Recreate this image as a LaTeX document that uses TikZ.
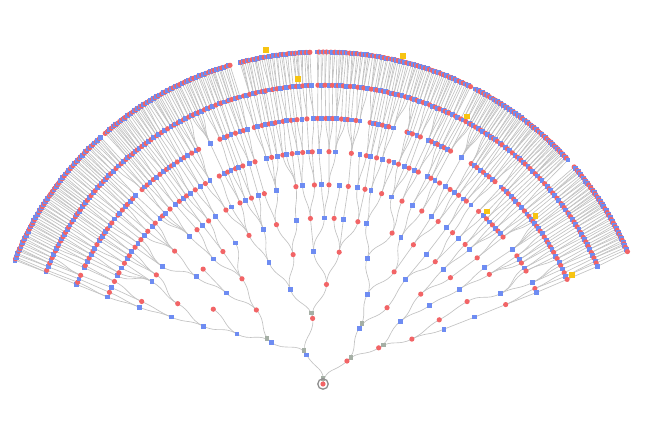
\documentclass[tikz,border=0pt]{standalone}
\pgfdeclarelayer{bg}
\pgfsetlayers{bg,main}
\definecolor{nred}{HTML}{F26466}
\definecolor{nblue}{HTML}{6E8CF2}
\definecolor{ngray}{HTML}{A5AFA5}
\definecolor{nyellow}{HTML}{F7C412}
\definecolor{ecol}{HTML}{C2C2C2}
\definecolor{ringc}{HTML}{8E8E8E}
\tikzset{
  rnode/.style={circle,fill=nred,inner sep=0pt,minimum size=5.2pt},
  bnode/.style={rectangle,fill=nblue,inner sep=0pt,minimum size=4.8pt},
  gmark/.style={rectangle,fill=ngray,inner sep=0pt,minimum size=4.6pt},
  ymark/.style={rectangle,fill=nyellow,inner sep=0pt,minimum size=5.6pt},
  rootring/.style={circle,draw=ringc,line width=1.3pt,inner sep=0pt,minimum size=10.5pt},
  link/.style={draw=ecol,line width=0.65pt},
}
\newcommand\SetA[3]{\expandafter\xdef\csname tA-#1-#2\endcsname{#3}}
\newcommand\GetA[2]{\csname tA-#1-#2\endcsname}
\newcommand\SetP[3]{\expandafter\xdef\csname tP-#1-#2\endcsname{#3}}
\newcommand\GetP[2]{\csname tP-#1-#2\endcsname}
\newcommand\SetN[2]{\expandafter\xdef\csname tN-#1\endcsname{#2}}
\newcommand\GetN[1]{\csname tN-#1\endcsname}
\newcommand\SetLevel[2]{%
  \xdef\tmpc{0}%
  \foreach \v [count=\k from 0] in {#2}{\SetA{#1}{\k}{\v}\xdef\tmpc{\k}}%
  \pgfmathtruncatemacro\tmpn{\tmpc+1}\SetN{#1}{\tmpn}}
% level, count, left angle, right angle, prob. of a wide gap, wide gap size
\newcommand\GenLevel[6]{%
  \SetN{#1}{#2}%
  \xdef\cumv{0}%
  \SetA{#1}{0}{0}%
  \pgfmathtruncatemacro\lastk{#2-1}%
  \foreach \k in {1,...,\lastk}{%
    \pgfmathsetmacro\gv{0.65+0.7*rnd+(rnd<#5)*(#6*(0.5+rnd))}%
    \pgfmathsetmacro\cv{\cumv+\gv}%
    \xdef\cumv{\cv}%
    \SetA{#1}{\k}{\cv}}%
  \foreach \k in {0,...,\lastk}{%
    \pgfmathsetmacro\cv{#3-(#3-#4)*(\GetA{#1}{\k}/\cumv)}%
    \SetA{#1}{\k}{\cv}}%
}
\newif\ifmoreadv
\newcommand\AdvP{%
  \loop
    \moreadvfalse
    \pgfmathtruncatemacro\nx{\pp+1}%
    \ifnum\nx<\np\relax
      \pgfmathtruncatemacro\cmp{abs(\GetA{\pd}{\nx}-\curA)<abs(\GetA{\pd}{\pp}-\curA)}%
      \ifnum\cmp=1 \xdef\pp{\nx}\moreadvtrue\fi
    \fi
  \ifmoreadv\repeat}
\newcommand\AssignParents[1]{%
  \pgfmathtruncatemacro\pd{#1-1}%
  \xdef\pp{0}%
  \edef\np{\GetN{\pd}}%
  \pgfmathtruncatemacro\lastk{\GetN{#1}-1}%
  \foreach \k in {0,...,\lastk}{%
    \edef\curA{\GetA{#1}{\k}}%
    \AdvP
    \SetP{#1}{\k}{\pp}}}
\begin{document}
\begin{tikzpicture}[x=1pt,y=1pt]
\useasboundingbox (-323,-42) rectangle (327,384);
\pgfmathsetseed{11}
\SetLevel{0}{81.5}
\SetLevel{1}{119.3,43.8}
\SetLevel{2}{141,99,57,33}
\SetLevel{3}{149.8,132,109,88,63.7,50,39,26.8}
\SetLevel{4}{154.2,145.7,136.8,127.6,114,103,94,83,70.6,57.6,51.7,42.6,36.4,28.9,24.4}
\GenLevel{5}{27}{156.2}{23.8}{0.12}{1.2}
\GenLevel{6}{46}{157.3}{23.5}{0.10}{1.2}
\GenLevel{7}{95}{158}{23.2}{0.04}{1.5}
\GenLevel{8}{150}{158}{23.2}{0.03}{1.8}
\GenLevel{9}{235}{158}{23.2}{0.02}{2}
\GenLevel{10}{390}{158.1}{23.5}{0.01}{3}
\foreach \d in {1,...,10}{\AssignParents{\d}}
% gray markers (under nodes)
\node[gmark] (g-0-0) at (90:5.5) {};
\foreach \d/\k in {1/0,1/1,2/0,2/1,2/2,2/3}{%
  \pgfmathsetmacro\rr{33.2*\d+5.5}%
  \edef\aa{\GetA{\d}{\k}}%
  \node[gmark] (g-\d-\k) at (\aa:\rr) {};}
% root
\node[rootring] (rootring) at (0,0) {};
\node[rnode] (n-0-0) at (0,0) {};
% tree nodes
\foreach \d in {1,...,10}{%
  \pgfmathsetmacro\rr{33.2*\d}%
  \pgfmathtruncatemacro\lastk{\GetN{\d}-1}%
  \foreach \k in {0,...,\lastk}{%
    \edef\aa{\GetA{\d}{\k}}%
    \ifodd\k
      \node[rnode] (n-\d-\k) at (\aa:\rr) {};%
    \else
      \node[bnode] (n-\d-\k) at (\aa:\rr) {};%
    \fi}}
% yellow markers
\node[ymark] (y-1) at (99.7:339) {};
\node[ymark] (y-2) at (94.7:306) {};
\node[ymark] (y-3) at (76.3:337.6) {};
\node[ymark] (y-4) at (61.7:304) {};
\node[ymark] (y-5) at (46.4:238) {};
\node[ymark] (y-6) at (38.3:271) {};
\node[ymark] (y-7) at (23.6:272) {};
% links
\begin{pgfonlayer}{bg}
\foreach \d in {1,...,10}{%
  \pgfmathtruncatemacro\pd{\d-1}%
  \pgfmathsetmacro\rmid{33.2*\d-16.6}%
  \pgfmathtruncatemacro\lastk{\GetN{\d}-1}%
  \foreach \k in {0,...,\lastk}{%
    \edef\pk{\GetP{\d}{\k}}%
    \edef\aP{\GetA{\pd}{\pk}}%
    \edef\aC{\GetA{\d}{\k}}%
    \draw[link] (n-\pd-\pk.center) .. controls (\aP:\rmid) and (\aC:\rmid) .. (n-\d-\k.center);}}
\end{pgfonlayer}
\end{tikzpicture}
\end{document}
